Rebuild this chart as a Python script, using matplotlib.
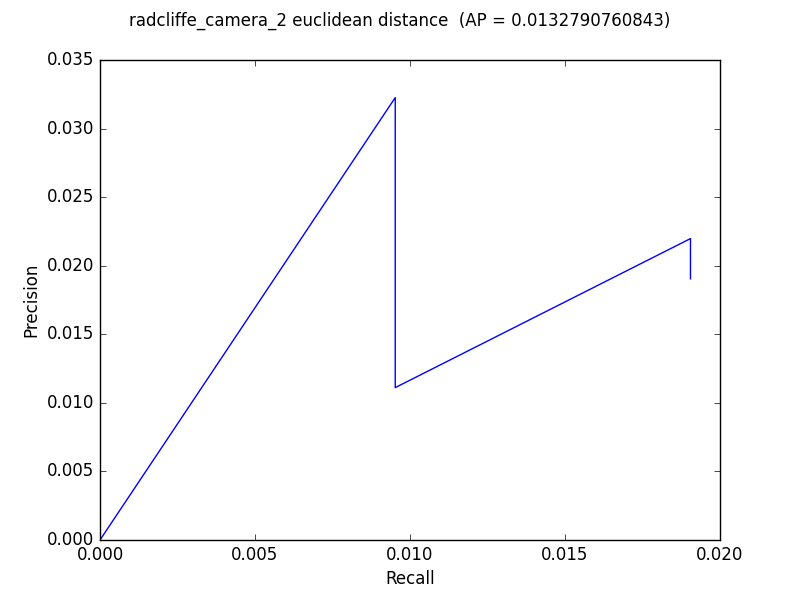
import matplotlib
matplotlib.use('Agg')
import matplotlib.pyplot as plt

recall = [0.0, 1/105, 1/105, 2/105, 2/105]
precision = [0.0, 1/31, 1/90, 2/91, 2/105]
title = "radcliffe_camera_2 euclidean distance  (AP = 0.0132790760843)"

plt.style.use('classic')
fig = plt.figure(figsize=(8, 6), dpi=100)
ax = fig.add_subplot(111)
ax.plot(recall, precision, color='b')
ax.set_xlim(0, 0.020)
ax.set_ylim(0, 0.035)
ax.set_xlabel('Recall')
ax.set_ylabel('Precision')
fig.suptitle(title)
fig.savefig('out.png', dpi=100)
